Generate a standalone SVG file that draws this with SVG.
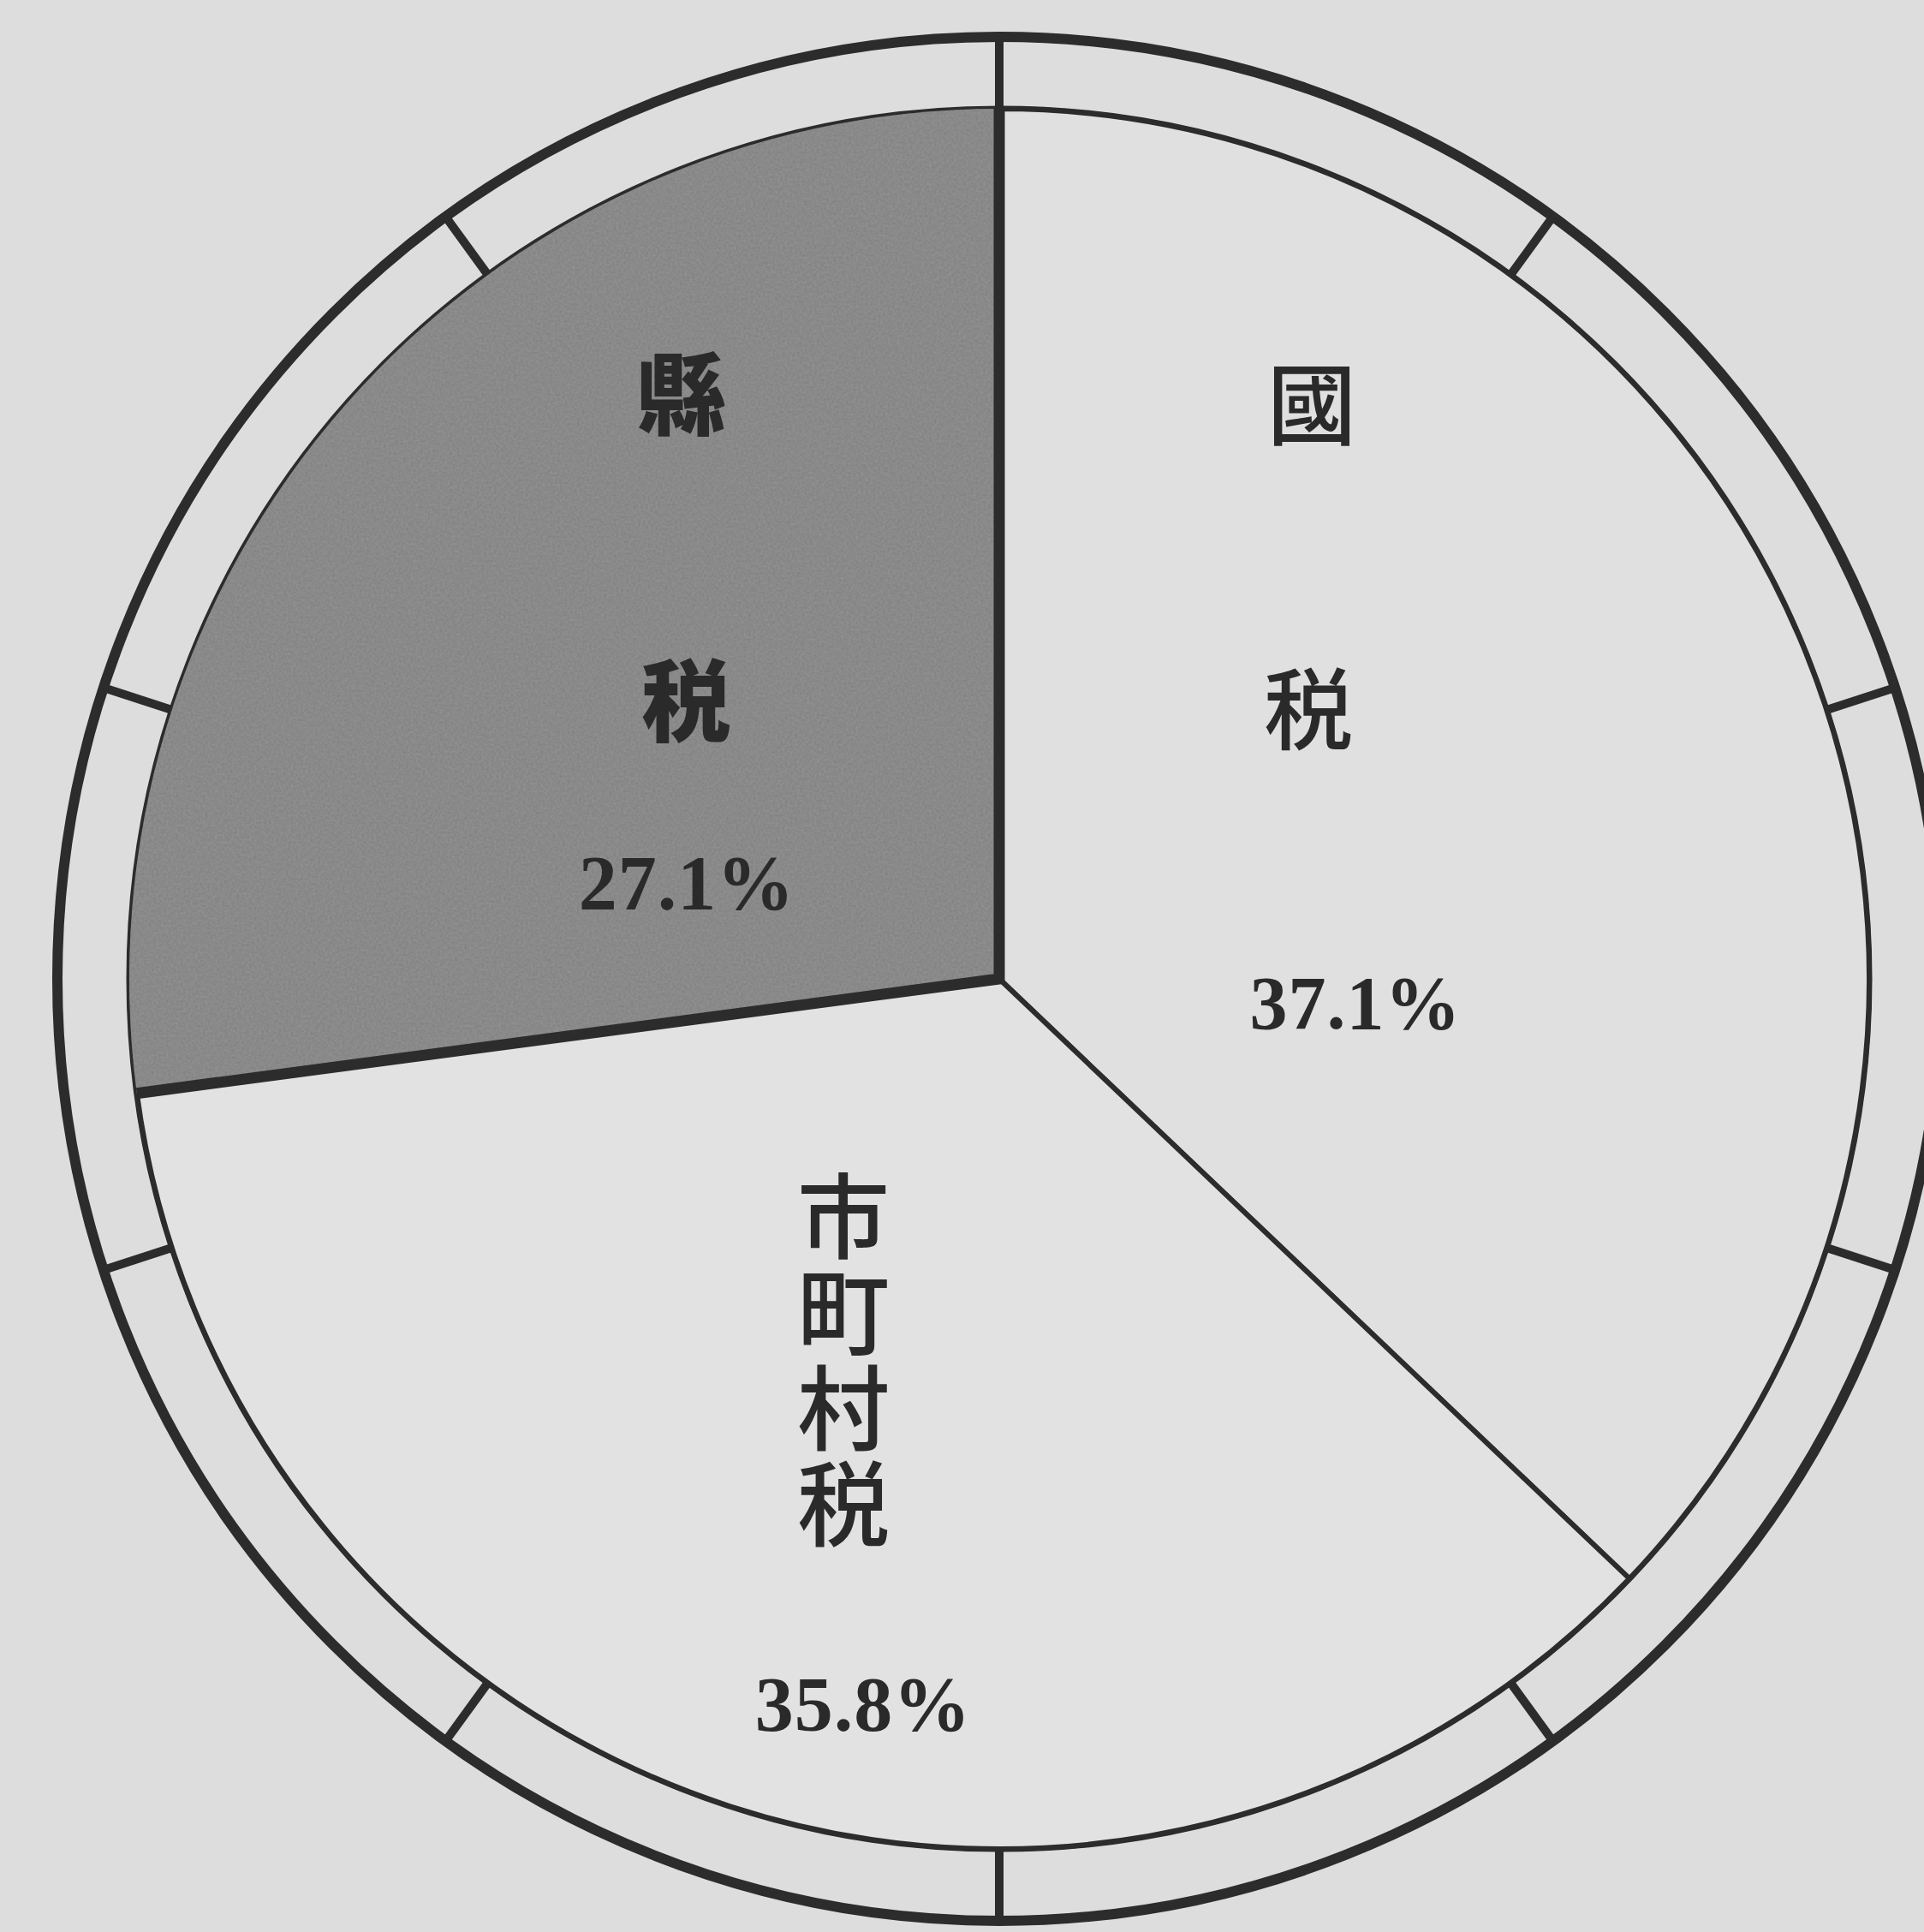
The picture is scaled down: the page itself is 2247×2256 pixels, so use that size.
<svg xmlns="http://www.w3.org/2000/svg" width="2247" height="2256" viewBox="0 0 2247 2256">
<style>
.bg{fill:#dddddd}
.ring{fill:none;stroke:#2c2c2c}
.tick{stroke:#2c2c2c;stroke-width:10}
.cjk{font-family:"Noto Sans CJK JP","Noto Sans CJK TC",sans-serif;fill:#2a2a2a;text-anchor:middle}
.num{font-family:"Liberation Serif",serif;font-weight:bold;fill:#2a2a2a;text-anchor:middle;letter-spacing:1px}
</style>
<defs>
<filter id="grain" x="0" y="0" width="100%" height="100%">
<feTurbulence type="fractalNoise" baseFrequency="0.35" numOctaves="2" seed="3" result="n"/>
<feColorMatrix in="n" type="matrix" values="0 0 0 0 0.55  0 0 0 0 0.55  0 0 0 0 0.55  0 0 0 0.25 0" result="g"/>
<feComposite in="g" in2="SourceGraphic" operator="in" result="gi"/>
<feMerge><feMergeNode in="SourceGraphic"/><feMergeNode in="gi"/></feMerge>
</filter>
</defs>
<rect class="bg" x="0" y="0" width="2247" height="2256"/>

<g id="frame">
<circle class="ring" cx="1167" cy="1143" r="1100" stroke-width="12"/>
<circle class="ring" cx="1167" cy="1143" r="1016" stroke-width="7" fill="#e0e0e0"/>
<g id="ticks">
<line class="tick" x1="1167" y1="43" x2="1167" y2="127"/>
<line class="tick" x1="1167" y1="43" x2="1167" y2="127" transform="rotate(36 1167 1143)"/>
<line class="tick" x1="1167" y1="43" x2="1167" y2="127" transform="rotate(72 1167 1143)"/>
<line class="tick" x1="1167" y1="43" x2="1167" y2="127" transform="rotate(108 1167 1143)"/>
<line class="tick" x1="1167" y1="43" x2="1167" y2="127" transform="rotate(144 1167 1143)"/>
<line class="tick" x1="1167" y1="43" x2="1167" y2="127" transform="rotate(180 1167 1143)"/>
<line class="tick" x1="1167" y1="43" x2="1167" y2="127" transform="rotate(216 1167 1143)"/>
<line class="tick" x1="1167" y1="43" x2="1167" y2="127" transform="rotate(252 1167 1143)"/>
<line class="tick" x1="1167" y1="43" x2="1167" y2="127" transform="rotate(288 1167 1143)"/>
<line class="tick" x1="1167" y1="43" x2="1167" y2="127" transform="rotate(324 1167 1143)"/>
</g>
</g>

<g id="sector-kokuzei">
<path d="M1167 1143 L1167 127 A1016 1016 0 0 1 1903 1843.4 Z" fill="#e0e0e0" stroke="#2c2c2c" stroke-width="6" stroke-linejoin="round"/>
<text class="cjk" x="1532" y="512" font-size="104" font-weight="500">國</text>
<text class="cjk" x="1528" y="868" font-size="104" font-weight="500">税</text>
<text class="num" x="1583" y="1201" font-size="88">37.1%</text>
</g>

<g id="sector-shichosonzei">
<path d="M1167 1143 L1903 1843.4 A1016 1016 0 0 1 159.8 1276.7 Z" fill="#e2e2e2" stroke="#2c2c2c" stroke-width="6" stroke-linejoin="round"/>
<text class="cjk" x="985" y="1366" font-size="108" font-weight="500" writing-mode="vertical-rl" letter-spacing="4" style="text-anchor:start">市町村税</text>
<text class="num" x="1008" y="2021" font-size="90" font-weight="normal">35.8%</text>
</g>

<g id="sector-kenzei">
<path d="M1167 1143 L159.8 1276.7 A1016 1016 0 0 1 1167 127 Z" fill="#7f7f7f" filter="url(#grain)"/>
<path d="M1167 127 L1167 1143 L159.8 1276.7" fill="none" stroke="#2c2c2c" stroke-width="13" stroke-linejoin="miter"/>
<text class="cjk" x="795" y="500" font-size="104" font-weight="900">縣</text>
<text class="cjk" x="801" y="858" font-size="104" font-weight="900">税</text>
<text class="num" x="802" y="1062" font-size="90" font-weight="900">27.1%</text>
</g>
</svg>
